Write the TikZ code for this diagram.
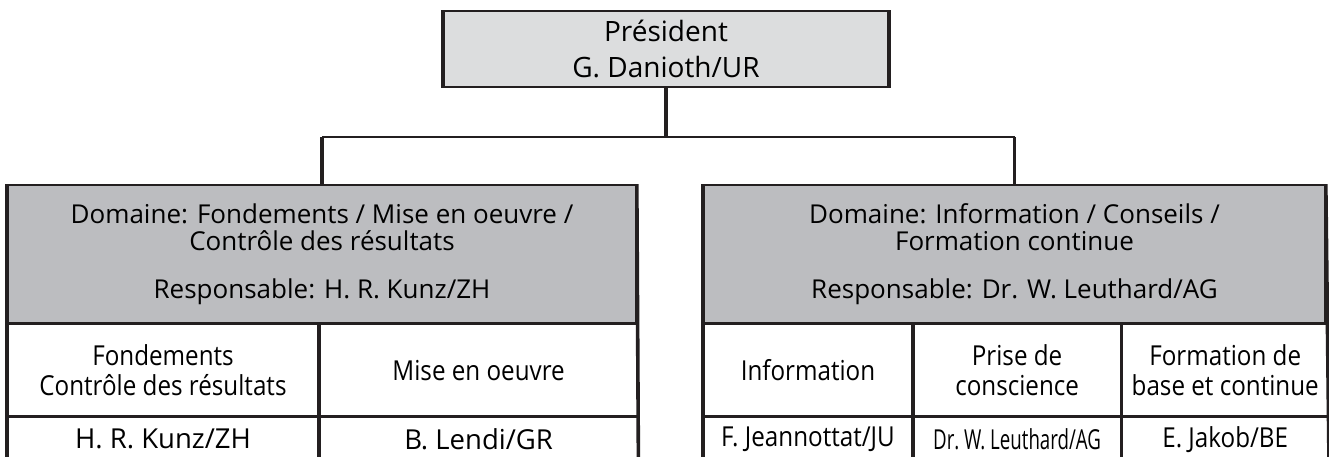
\documentclass[tikz,border=0pt]{standalone}
\usepackage{fontspec}
\setmainfont{Open Sans}
\newfontfamily\cellfont[FakeStretch=0.88]{Open Sans}
\newfontfamily\narrowfont[FakeStretch=0.68]{Open Sans}
\usetikzlibrary{positioning}
\definecolor{presgray}{HTML}{DCDDDE}
\definecolor{headgray}{HTML}{BCBDC0}
\definecolor{linedark}{HTML}{231F20}

\begin{document}
\begin{tikzpicture}[x=1pt, y=-1pt,
  hline/.style={draw=linedark, line width=1.6pt},
  vline/.style={draw=linedark, line width=3.6pt},
  presbox/.style={hline, fill=presgray, minimum width=444pt, minimum height=76pt,
                  inner sep=0pt, align=center, font=\fontsize{28}{36}\selectfont},
  headbox/.style={hline, fill=headgray, minimum height=138pt, inner sep=0pt,
                  align=center, font=\fontsize{26}{27.5}\selectfont},
  cell/.style={hline, fill=white, minimum height=91pt, inner sep=0pt,
               align=center, font=\cellfont\fontsize{27.5}{30}\selectfont},
  namecell/.style={cell, minimum height=44pt},
  node distance=0pt
]
\useasboundingbox (0,0) rectangle (1329,456);
\clip (0,0) rectangle (1329,456);

\node[presbox] (pres) at (666,49) {Président\\G. Danioth/UR};

\node[headbox, minimum width=628pt] (headL) at (322,254)
  {Domaine: Fondements / Mise en oeuvre /\\Contrôle des résultats\\[20pt]Responsable: H. R. Kunz/ZH};
\node[headbox, minimum width=621pt] (headR) at (1014.5,254)
  {Domaine: Information / Conseils /\\Formation continue\\[20pt]Responsable: Dr. W. Leuthard/AG};

% left domain
\node[cell, minimum width=310pt] (fond) [below right=of headL.south west] {Fondements\\Contrôle des résultats};
\node[cell, minimum width=318pt] (mise) [right=of fond] {Mise en oeuvre};
\node[namecell, minimum width=310pt] (kunz) [below=of fond] {\rmfamily H. R. Kunz/ZH};
\node[namecell, minimum width=318pt] (lendi) [below=of mise] {\rmfamily B. Lendi/GR};

% right domain
\node[cell, minimum width=208pt] (info) [below right=of headR.south west] {Information};
\node[cell, minimum width=207pt] (prise) [right=of info] {Prise de\\conscience};
\node[cell, minimum width=206pt] (form) [right=of prise] {Formation de\\base et continue};
\node[namecell, minimum width=208pt] (jean) [below=of info] {F. Jeannottat/JU};
\node[namecell, minimum width=207pt] (leut) [below=of prise] {\narrowfont Dr.\,W. Leuthard/AG};
\node[namecell, minimum width=206pt] (jakob) [below=of form] {E. Jakob/BE};

\draw[vline] (pres.north west) -- (pres.south west);
\draw[vline] (pres.north east) -- (pres.south east);
\draw[vline] (headL.north west) -- (kunz.south west);
\draw[vline] (fond.north east) -- (kunz.south east);
\draw[vline] (headL.north east) -- (lendi.south east);
\draw[vline] (headR.north west) -- (jean.south west);
\draw[vline] (info.north east) -- (jean.south east);
\draw[vline] (prise.north east) -- (leut.south east);
\draw[vline] (headR.north east) -- (jakob.south east);

\coordinate (split) at (666,137);
\draw[vline] (pres.south) -- (split);
\draw[hline] (headL.north |- split) -- (headR.north |- split);
\draw[vline] (headL.north |- split) -- (headL.north);
\draw[vline] (headR.north |- split) -- (headR.north);
\end{tikzpicture}
\end{document}
